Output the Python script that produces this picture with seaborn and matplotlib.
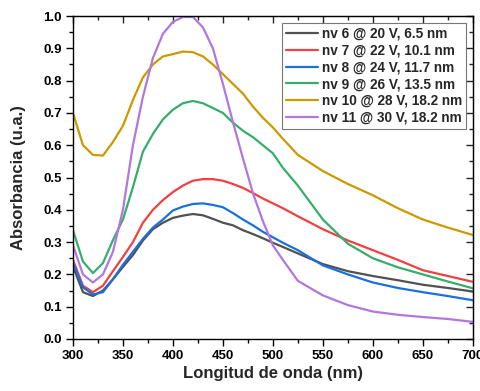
import matplotlib
matplotlib.use("Agg")
import matplotlib.pyplot as plt
import pandas as pd
import seaborn as sns
from matplotlib.ticker import MultipleLocator

# longitudes de onda (nm)
longitud = [300, 310, 320, 330, 340, 350, 360, 370, 380, 390, 400, 410, 420, 430, 440,
            450, 460, 470, 480, 490, 500, 510, 525, 550, 575, 600, 625, 650, 675, 700]

nv6 = [0.225, 0.145, 0.133, 0.150, 0.185, 0.223, 0.260, 0.305, 0.340, 0.360, 0.375, 0.382,
       0.387, 0.383, 0.372, 0.360, 0.352, 0.337, 0.325, 0.312, 0.298, 0.285, 0.265, 0.232,
       0.210, 0.195, 0.182, 0.168, 0.158, 0.147]
nv7 = [0.245, 0.165, 0.145, 0.165, 0.210, 0.254, 0.300, 0.360, 0.400, 0.430, 0.455, 0.475,
       0.490, 0.495, 0.495, 0.490, 0.480, 0.468, 0.452, 0.435, 0.420, 0.405, 0.380, 0.340,
       0.305, 0.275, 0.245, 0.213, 0.195, 0.177]
nv8 = [0.235, 0.160, 0.138, 0.145, 0.185, 0.230, 0.270, 0.310, 0.345, 0.370, 0.398, 0.410,
       0.418, 0.420, 0.415, 0.408, 0.390, 0.370, 0.352, 0.332, 0.315, 0.298, 0.275, 0.228,
       0.200, 0.175, 0.158, 0.145, 0.133, 0.120]
nv9 = [0.337, 0.240, 0.204, 0.235, 0.306, 0.370, 0.470, 0.580, 0.635, 0.680, 0.710, 0.730,
       0.737, 0.730, 0.715, 0.700, 0.670, 0.645, 0.625, 0.600, 0.575, 0.530, 0.475, 0.370,
       0.295, 0.250, 0.222, 0.200, 0.178, 0.157]
nv10 = [0.700, 0.600, 0.570, 0.568, 0.610, 0.660, 0.740, 0.810, 0.850, 0.875, 0.882, 0.890,
        0.888, 0.875, 0.850, 0.820, 0.790, 0.760, 0.720, 0.685, 0.655, 0.620, 0.570, 0.520,
        0.480, 0.445, 0.405, 0.370, 0.345, 0.322]
nv11 = [0.290, 0.200, 0.175, 0.200, 0.270, 0.400, 0.600, 0.750, 0.870, 0.945, 0.982, 0.997,
        0.997, 0.965, 0.900, 0.790, 0.672, 0.560, 0.452, 0.365, 0.290, 0.245, 0.180, 0.135,
        0.105, 0.085, 0.075, 0.068, 0.062, 0.053]

etiquetas = ["nv 6 @ 20 V, 6.5 nm", "nv 7 @ 22 V, 10.1 nm", "nv 8 @ 24 V, 11.7 nm",
             "nv 9 @ 26 V, 13.5 nm", "nv 10 @ 28 V, 18.2 nm", "nv 11 @ 30 V, 18.2 nm"]
colores = ["#515151", "#F14040", "#1A6FDF", "#37AD6B", "#CC9900", "#B177DE"]

series = [nv6, nv7, nv8, nv9, nv10, nv11]
df = pd.concat(
    [pd.DataFrame({"longitud": longitud, "abs": s, "muestra": e}) for s, e in zip(series, etiquetas)],
    ignore_index=True,
)

sns.set_style("ticks")
plt.rcParams["font.family"] = ["Liberation Sans", "DejaVu Sans"]
plt.rcParams["font.weight"] = "bold"

fig = plt.figure(figsize=(4.8, 3.91), dpi=100)
ax = fig.add_axes([0.152, 0.133, 0.833, 0.826])

sns.lineplot(data=df, x="longitud", y="abs", hue="muestra", palette=colores,
             hue_order=etiquetas, linewidth=1.6, ax=ax)

ax.set_xlim(300, 700)
ax.set_ylim(0, 1.0)
ax.xaxis.set_major_locator(MultipleLocator(50))
ax.xaxis.set_minor_locator(MultipleLocator(25))
ax.yaxis.set_major_locator(MultipleLocator(0.1))
ax.yaxis.set_minor_locator(MultipleLocator(0.05))
# abajo/izquierda hacia fuera, arriba/derecha hacia dentro (estilo Origin)
ax.tick_params(which="both", direction="out", width=1.0, colors="black", labelsize=9.5, pad=3)
ax.tick_params(which="major", length=5)
ax.tick_params(which="minor", length=3)
sec_x = ax.secondary_xaxis("top")
sec_y = ax.secondary_yaxis("right")
for sec in (sec_x, sec_y):
    sec.tick_params(which="both", direction="in", width=1.0, labelleft=False, labelright=False,
                    labeltop=False, labelbottom=False)
    sec.tick_params(which="major", length=5)
    sec.tick_params(which="minor", length=3)
sec_x.xaxis.set_major_locator(MultipleLocator(50))
sec_x.xaxis.set_minor_locator(MultipleLocator(25))
sec_y.yaxis.set_major_locator(MultipleLocator(0.1))
sec_y.yaxis.set_minor_locator(MultipleLocator(0.05))
for lbl in ax.get_xticklabels() + ax.get_yticklabels():
    lbl.set_fontweight("bold")
for sp in ax.spines.values():
    sp.set_linewidth(1.0)
    sp.set_color("black")

ax.set_xlabel("Longitud de onda (nm)", fontsize=12, fontweight="bold")
ax.set_ylabel("Absorbancia (u.a.)", fontsize=12, fontweight="bold")
ax.xaxis.set_label_coords(0.5, -0.085)
ax.yaxis.set_label_coords(-0.118, 0.5)

leg = ax.legend(loc="upper right", fontsize=9.8, frameon=True, fancybox=False,
                handlelength=2.3, handletextpad=0.3, borderpad=0.3, labelspacing=0.2,
                borderaxespad=0.5)
leg.get_frame().set_edgecolor("#555555")
leg.get_frame().set_linewidth(0.8)
for t in leg.get_texts():
    t.set_fontweight("bold")

fig.savefig("out.png", dpi=100)
